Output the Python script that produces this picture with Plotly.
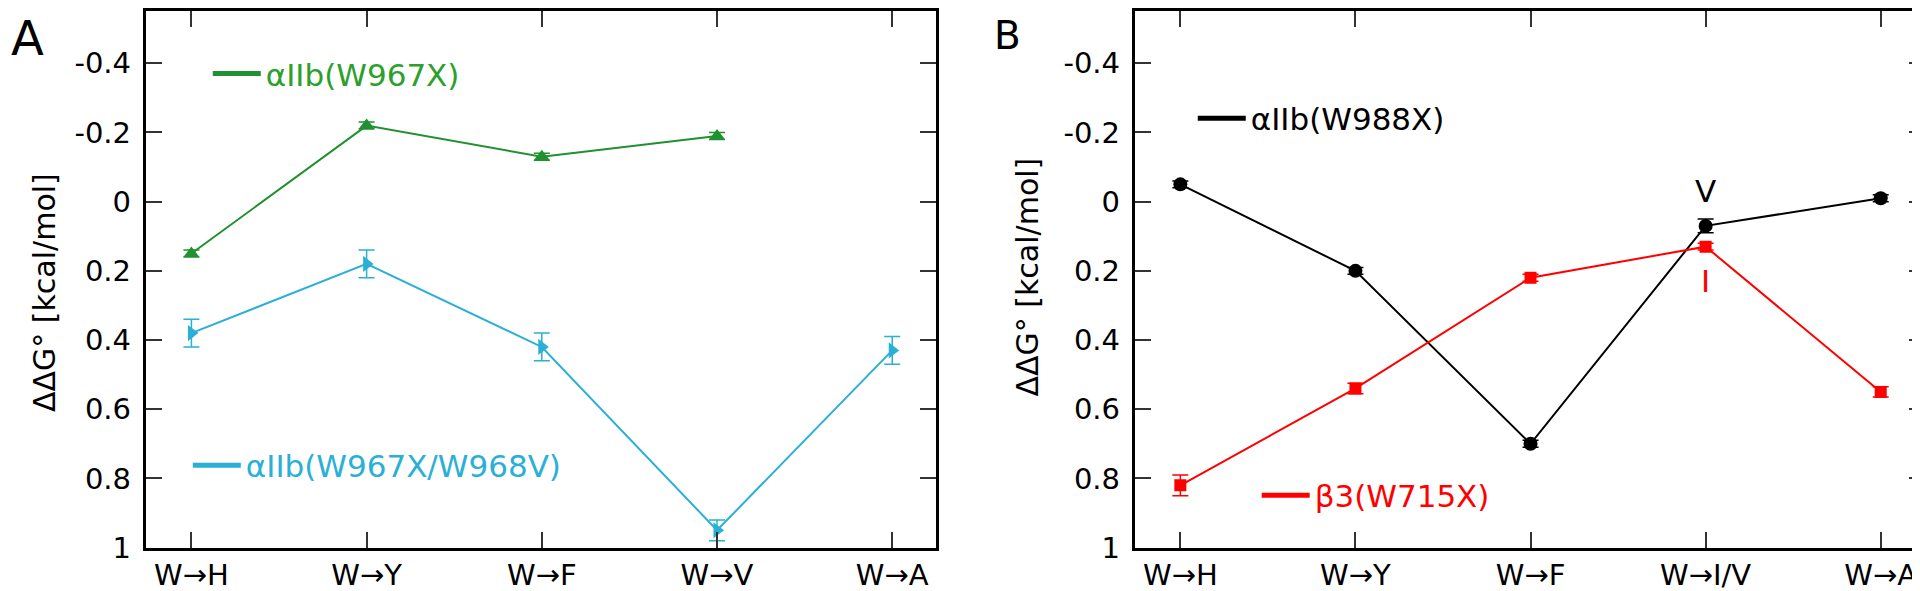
import plotly.graph_objects as go

# ---------------- data ----------------
cats_A = ["W→H", "W→Y", "W→F", "W→V", "W→A"]
cats_B = ["W→H", "W→Y", "W→F", "W→I/V", "W→A"]

# Panel A
a_w967x = [0.15, -0.22, -0.13, -0.19, None]
a_w967x_err = [0.01, 0.01, 0.01, 0.01, 0.0]
a_w967x_w968v = [0.38, 0.18, 0.42, 0.95, 0.43]
a_w967x_w968v_err = [0.04, 0.04, 0.04, 0.03, 0.04]

# Panel B
b_w988x = [-0.05, 0.20, 0.70, 0.07, -0.01]
b_w988x_err = [0.01, 0.01, 0.01, 0.02, 0.01]
b_w715x = [0.82, 0.54, 0.22, 0.13, 0.55]
b_w715x_err = [0.03, 0.015, 0.01, 0.01, 0.015]

y_tickvals = [-0.4, -0.2, 0, 0.2, 0.4, 0.6, 0.8, 1]
y_ticktext = ["-0.4", "-0.2", "0", "0.2", "0.4", "0.6", "0.8", "1"]

GREEN = "#1f9130"
GREEN_T = "#2ca02c"
CYAN = "#2ab0d6"
RED = "#ff0000"
BLACK = "#000000"
FONT = "DejaVu Sans"

W, H = 1920, 591
def px_x(p): return p / W
def px_y(p): return 1 - p / H

fig = go.Figure()

def add_series(x, y, err, color, symbol, name, xa, ya, legend, msize=12):
    fig.add_trace(go.Scatter(
        x=x, y=y, mode="lines+markers", name=name,
        line=dict(color=color, width=2),
        marker=dict(symbol=symbol, size=msize, color=color),
        error_y=dict(type="data", array=err, visible=True, color=color,
                     thickness=1.5, width=8),
        xaxis=xa, yaxis=ya, showlegend=False, connectgaps=False))
    # legend key (line only)
    fig.add_trace(go.Scatter(
        x=[None], y=[None], mode="lines", name=name,
        line=dict(color=color, width=5),
        xaxis=xa, yaxis=ya, showlegend=True, legend=legend))

add_series(cats_A, a_w967x, a_w967x_err, GREEN, "triangle-up", "αIIb(W967X)", "x", "y", "legend", 14)
add_series(cats_A, a_w967x_w968v, a_w967x_w968v_err, CYAN, "triangle-right", "αIIb(W967X/W968V)", "x", "y", "legend2", 14)
add_series(cats_B, b_w988x, b_w988x_err, BLACK, "circle", "αIIb(W988X)", "x2", "y2", "legend3", 14)
add_series(cats_B, b_w715x, b_w715x_err, RED, "square", "β3(W715X)", "x2", "y2", "legend4", 12)

axis_common = dict(showline=True, linecolor="black", linewidth=3, mirror="ticks",
                   ticks="inside", ticklen=16, tickwidth=2, tickcolor="#333",
                   showgrid=False, zeroline=False)

xcommon = dict(axis_common, type="category", range=[-0.26, 4.25],
               tickfont=dict(family=FONT, size=29, color="black"), ticklabelstandoff=0,
               ticklabeloverflow="allow")
ycommon = dict(axis_common, range=[1.0, -0.55], tickvals=y_tickvals, ticktext=y_ticktext,
               tickfont=dict(family=FONT, size=29, color="black"), ticklabelstandoff=6)

top, bot = px_y(2.5), px_y(555.5)
fig.update_layout(
    width=W, height=H,
    margin=dict(l=0, r=0, t=0, b=0),
    paper_bgcolor="white", plot_bgcolor="white",
    font=dict(family=FONT, color="black"),
    xaxis=dict(xcommon, domain=[px_x(138), px_x(929)], anchor="y", categoryarray=cats_A),
    yaxis=dict(ycommon, domain=[bot, top], anchor="x"),
    xaxis2=dict(xcommon, domain=[px_x(1128), px_x(1918.5)], anchor="y2", categoryarray=cats_B),
    yaxis2=dict(ycommon, domain=[bot, top], anchor="x2"),
)

def leg(xpx, ypx, color):
    return dict(x=px_x(xpx), y=px_y(ypx), xanchor="left", yanchor="middle",
                bgcolor="rgba(0,0,0,0)", borderwidth=0, itemwidth=48,
                font=dict(family=FONT, size=31, color=color))

fig.update_layout(
    legend=leg(200, 67, GREEN_T),
    legend2=leg(180, 471, CYAN),
    legend3=leg(1186, 113, BLACK),
    legend4=leg(1250, 502, RED),
)

anns = [
    dict(text="A", x=px_x(1), y=px_y(30), xanchor="left", yanchor="middle", font=dict(size=48)),
    dict(text="B", x=px_x(985), y=px_y(27), xanchor="left", yanchor="middle", font=dict(size=39)),
    dict(text="ΔΔG° [kcal/mol]", x=px_x(36), y=px_y(292), textangle=-90,
         xanchor="center", yanchor="middle", font=dict(size=30)),
    dict(text="ΔΔG° [kcal/mol]", x=px_x(1021), y=px_y(276), textangle=-90,
         xanchor="center", yanchor="middle", font=dict(size=30)),
]
for a in anns:
    a.update(xref="paper", yref="paper", showarrow=False)
    a["font"] = dict(family=FONT, color="black", **a["font"])
    fig.add_annotation(**a)

# residue labels at W→I/V
fig.add_annotation(text="V", x="W→I/V", y=-0.03, xref="x2", yref="y2", showarrow=False,
                   font=dict(family=FONT, size=31, color="black"))
fig.add_annotation(text="I", x="W→I/V", y=0.23, xref="x2", yref="y2", showarrow=False,
                   font=dict(family=FONT, size=31, color=RED))

fig.write_html("out.html")
